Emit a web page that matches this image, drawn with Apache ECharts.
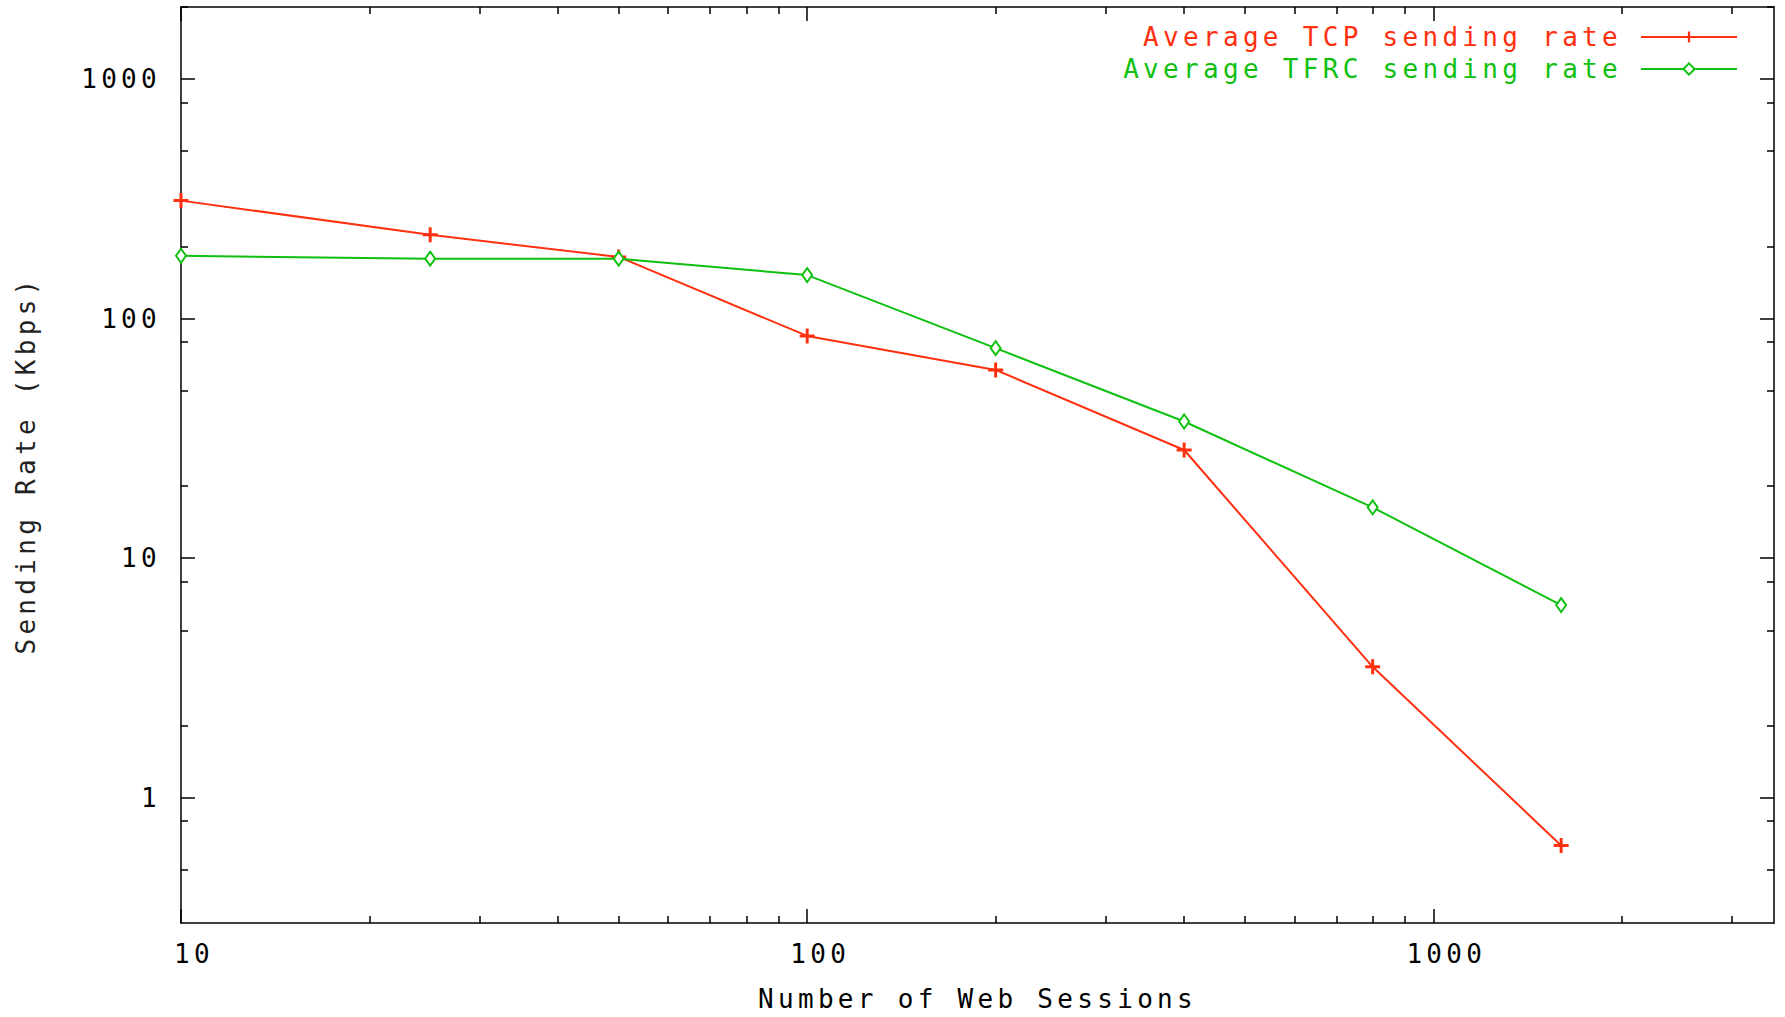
<!DOCTYPE html>
<html>
<head>
<meta charset="utf-8">
<script src="https://cdn.jsdelivr.net/npm/echarts@6/dist/echarts.min.js"></script>
<style>
  html, body { margin: 0; padding: 0; background: #fff; }
  #main { width: 1785px; height: 1017px; }
  #main svg text { letter-spacing: 4.3px; }
</style>
</head>
<body>
<div id="main"></div>
<script>
// ---- data ----
const sessions = [10, 25, 50, 100, 200, 400, 800, 1600];
const tcpRate  = [311, 224, 181, 84.7, 61.1, 28.3, 3.52, 0.632];
const tfrcRate = [183, 178, 178, 152, 75.3, 37.2, 16.3, 6.37];

const seriesNames = ['Average TCP sending rate', 'Average TFRC sending rate'];

const xMajorTicks = [10, 100, 1000];
const xMinorTicks = [20, 30, 40, 50, 60, 70, 80, 90, 200, 300, 400, 500, 600, 700, 800, 900, 2000, 3000];
const yMajorTicks = [1, 10, 100, 1000];
const yMinorTicks = [0.5, 0.8, 2, 5, 8, 20, 50, 80, 200, 500, 800, 2000];

const xRange = [10, 3500];
const yRange = [0.3, 2000];

const RED = '#ff3010';
const GREEN = '#10c010';
const FONT = 'DejaVu Sans Mono';
const FS = 26;

const chart = echarts.init(document.getElementById('main'), null, { renderer: 'svg' });

function majorAxis(base, pos, withLabels, ticks, extra) {
  return Object.assign({
    type: 'log',
    logBase: 10,
    min: base[0],
    max: base[1],
    position: pos,
    axisLine: { show: true, onZero: false, lineStyle: { color: '#000', width: 1.5 } },
    axisTick: { show: true, inside: true, length: 14, customValues: ticks, lineStyle: { color: '#000', width: 1.5 } },
    axisLabel: { show: false },
    splitLine: { show: false },
    minorTick: { show: false },
    minorSplitLine: { show: false }
  }, extra || {});
}
function minorAxis(base, pos, ticks) {
  return {
    type: 'log',
    logBase: 10,
    min: base[0],
    max: base[1],
    position: pos,
    axisLine: { show: false, onZero: false },
    axisTick: { show: true, inside: true, length: 7, customValues: ticks, lineStyle: { color: '#000', width: 1.5 } },
    axisLabel: { show: false },
    splitLine: { show: false }
  };
}

const plusPath = 'path://M4,0h2v4h4v2h-4v4h-2v-4h-4v-2h4z';

chart.setOption({
  animation: false,
  backgroundColor: '#fff',
  grid: { left: 181, right: 11, top: 7, bottom: 94, containLabel: false },
  legend: {
    orient: 'vertical',
    right: 47,
    top: 24,
    padding: 0,
    align: 'right',
    itemWidth: 96,
    itemHeight: 14,
    itemGap: 6,
    textStyle: { fontFamily: FONT, fontSize: FS, lineHeight: 26, padding: [0, 14, 0, 0] },
    data: [
      { name: seriesNames[0], textStyle: { color: RED } },
      { name: seriesNames[1], textStyle: { color: GREEN } }
    ]
  },
  xAxis: [
    majorAxis(xRange, 'bottom', true, xMajorTicks, {
      name: 'Number of Web Sessions',
      nameLocation: 'middle',
      nameGap: 63,
      nameTextStyle: { fontFamily: FONT, fontSize: FS, color: '#000' },
      axisLabel: {
        show: true, customValues: xMajorTicks,
        formatter: v => String(Math.round(v)),
        fontFamily: FONT, fontSize: FS, color: '#000',
        margin: 18, padding: [0, 0, 0, 26]
      }
    }),
    minorAxis(xRange, 'bottom', xMinorTicks),
    majorAxis(xRange, 'top', false, xMajorTicks),
    minorAxis(xRange, 'top', xMinorTicks)
  ],
  yAxis: [
    majorAxis(yRange, 'left', true, yMajorTicks, {
      name: 'Sending Rate (Kbps)',
      nameLocation: 'middle',
      nameGap: 142,
      nameTextStyle: { fontFamily: FONT, fontSize: FS, color: '#222' },
      axisLabel: {
        show: true, customValues: yMajorTicks,
        formatter: v => String(Math.round(v)),
        fontFamily: FONT, fontSize: FS, color: '#000',
        margin: 20
      }
    }),
    minorAxis(yRange, 'left', yMinorTicks),
    majorAxis(yRange, 'right', false, yMajorTicks),
    minorAxis(yRange, 'right', yMinorTicks)
  ],
  series: [
    {
      name: seriesNames[0],
      type: 'line',
      xAxisIndex: 0, yAxisIndex: 0,
      data: sessions.map((s, i) => [s, tcpRate[i]]),
      symbol: plusPath,
      symbolSize: 15,
      showAllSymbol: true,
      lineStyle: { color: RED, width: 2 },
      itemStyle: { color: RED, borderWidth: 0 },
      z: 3
    },
    {
      name: seriesNames[1],
      type: 'line',
      xAxisIndex: 0, yAxisIndex: 0,
      data: sessions.map((s, i) => [s, tfrcRate[i]]),
      symbol: 'emptyDiamond',
      symbolSize: [10, 14],
      showAllSymbol: true,
      lineStyle: { color: GREEN, width: 2 },
      itemStyle: { color: GREEN, borderColor: GREEN, borderWidth: 1.5 },
      z: 4
    }
  ]
});
</script>
</body>
</html>
